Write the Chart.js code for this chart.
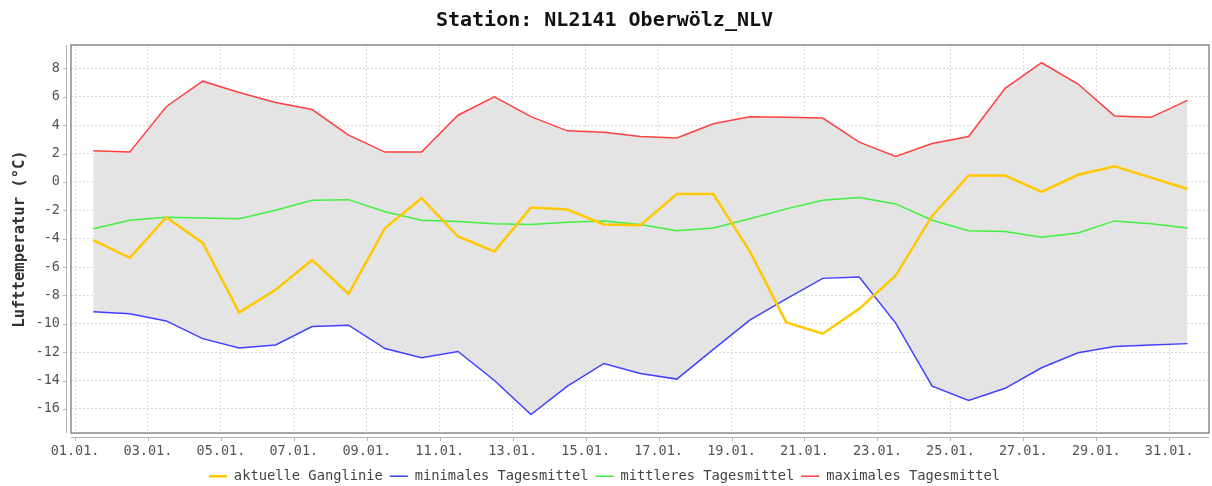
<!DOCTYPE html>
<html lang="de">
<head>
<meta charset="UTF-8">
<title>Station: NL2141 Oberwölz_NLV</title>
<script src="https://cdn.jsdelivr.net/npm/chart.js"></script>
<style>
    html, body { margin: 0; padding: 0; background: #fff; }
    #box { width: 1212px; height: 486px; }
</style>
</head>
<body>
<div id="box"><canvas id="grafico"></canvas></div>
<script>
    // Tage im Januar (Messwert jeweils Tagesmitte)
    const tage = [1,2,3,4,5,6,7,8,9,10,11,12,13,14,15,16,17,18,19,20,21,22,23,24,25,26,27,28,29,30,31];

    const aktuell = [-4.1,-5.35,-2.5,-4.3,-9.2,-7.6,-5.5,-7.9,-3.25,-1.15,-3.85,-4.9,-1.8,-1.95,-3.0,-3.05,
                     -0.85,-0.85,-4.9,-9.9,-10.7,-8.95,-6.6,-2.4,0.45,0.45,-0.7,0.5,1.1,0.3,-0.5];
    const minimal = [-9.15,-9.3,-9.8,-11.05,-11.7,-11.5,-10.2,-10.1,-11.75,-12.4,-11.95,-14.0,-16.4,-14.4,-12.8,-13.5,
                     -13.9,-11.8,-9.75,-8.25,-6.8,-6.7,-9.95,-14.4,-15.4,-14.55,-13.1,-12.05,-11.6,-11.5,-11.4];
    const mittel  = [-3.3,-2.7,-2.5,-2.55,-2.6,-2.0,-1.3,-1.25,-2.1,-2.7,-2.8,-2.95,-3.0,-2.85,-2.75,-3.0,
                     -3.45,-3.25,-2.6,-1.9,-1.3,-1.1,-1.55,-2.7,-3.45,-3.5,-3.9,-3.6,-2.75,-2.95,-3.25];
    const maximal = [2.2,2.1,5.3,7.1,6.3,5.6,5.1,3.3,2.1,2.1,4.7,6.0,4.6,3.6,3.5,3.2,
                     3.1,4.1,4.6,4.55,4.5,2.8,1.8,2.7,3.2,6.6,8.4,6.9,4.65,4.55,5.75];

    const xTickTage = [1,3,5,7,9,11,13,15,17,19,21,23,25,27,29,31];
    const xTickLabels = ['01.01.','03.01.','05.01.','07.01.','09.01.','11.01.','13.01.','15.01.',
                         '17.01.','19.01.','21.01.','23.01.','25.01.','27.01.','29.01.','31.01.'];
    const yTicks = [-16,-14,-12,-10,-8,-6,-4,-2,0,2,4,6,8];

    const MONO = '"DejaVu Sans Mono", monospace';

    function punkte(werte) {
        return tage.map((t, i) => ({ x: t - 0.5, y: werte[i] }));
    }

    // Rahmen + abgesetzte Achsenlinien wie im Original
    const rahmen = {
        id: 'rahmen',
        afterDraw(chart) {
            const { ctx, chartArea: a, scales: { x, y } } = chart;
            ctx.save();
            ctx.strokeStyle = '#8a8a8a';
            ctx.lineWidth = 1.5;
            ctx.strokeRect(a.left, a.top, a.right - a.left, a.bottom - a.top);

            ctx.strokeStyle = '#b5b5b5';
            ctx.lineWidth = 1;
            ctx.beginPath();
            ctx.moveTo(a.left - 4.5, a.top);
            ctx.lineTo(a.left - 4.5, a.bottom);
            y.ticks.forEach(t => {
                const py = Math.round(y.getPixelForValue(t.value)) + 0.5;
                ctx.moveTo(a.left - 8, py);
                ctx.lineTo(a.left - 4.5, py);
            });
            ctx.moveTo(a.left, a.bottom + 4.5);
            ctx.lineTo(a.right, a.bottom + 4.5);
            x.ticks.forEach(t => {
                const px = Math.round(x.getPixelForValue(t.value)) + 0.5;
                ctx.moveTo(px, a.bottom + 4.5);
                ctx.lineTo(px, a.bottom + 8);
            });
            ctx.stroke();
            ctx.restore();
        }
    };

    new Chart(document.getElementById('grafico'), {
        type: 'line',
        data: {
            datasets: [
                { label: 'aktuelle Ganglinie', data: punkte(aktuell), borderColor: '#FFC800', borderWidth: 2.5 },
                { label: 'minimales Tagesmittel', data: punkte(minimal), borderColor: '#4040FF', borderWidth: 1.5 },
                { label: 'mittleres Tagesmittel', data: punkte(mittel), borderColor: '#40F040', borderWidth: 1.5 },
                { label: 'maximales Tagesmittel', data: punkte(maximal), borderColor: '#FF4040', borderWidth: 1.5,
                  fill: { target: 1 }, backgroundColor: '#E4E4E4' }
            ]
        },
        options: {
            responsive: true,
            maintainAspectRatio: false,
            animation: false,
            elements: { point: { radius: 0 }, line: { tension: 0 } },
            layout: { padding: { left: 0, right: 3, top: 0, bottom: -7 } },
            plugins: {
                title: {
                    display: true,
                    text: 'Station: NL2141 Oberwölz_NLV',
                    color: '#111',
                    font: { family: MONO, size: 20, weight: 'bold' },
                    padding: { top: 9, bottom: 12 }
                },
                legend: {
                    position: 'bottom',
                    labels: {
                        usePointStyle: true,
                        pointStyle: 'line',
                        pointStyleWidth: 18,
                        padding: 7,
                        color: '#444',
                        font: { family: MONO, size: 13.75 }
                    }
                },
                tooltip: { enabled: false }
            },
            scales: {
                x: {
                    type: 'linear',
                    min: -0.11,
                    max: 31.09,
                    afterBuildTicks: s => { s.ticks = xTickTage.map(t => ({ value: t - 1 })); },
                    afterFit: s => { s.height = 29.25; },
                    ticks: {
                        autoSkip: false,
                        maxRotation: 0,
                        padding: 10,
                        color: '#555',
                        font: { family: MONO, size: 13.5 },
                        callback: (v, i) => xTickLabels[i]
                    },
                    grid: { color: '#dadada', lineWidth: 1, drawTicks: false },
                    border: { display: false, dash: [2, 2] }
                },
                y: {
                    min: -17.7,
                    max: 9.65,
                    afterBuildTicks: s => { s.ticks = yTicks.map(v => ({ value: v })); },
                    afterFit: s => { s.width = 71; },
                    ticks: {
                        padding: 11,
                        color: '#555',
                        font: { family: MONO, size: 13.5 },
                    },
                    grid: { color: '#dadada', lineWidth: 1, drawTicks: false },
                    border: { display: false, dash: [2, 2] },
                    title: {
                        display: true,
                        text: 'Lufttemperatur (°C)',
                        color: '#333',
                        font: { family: MONO, size: 15.5, weight: 'bold' },
                        padding: { top: 11, bottom: 0 }
                    }
                }
            }
        },
        plugins: [rahmen]
    });
</script>
</body>
</html>
